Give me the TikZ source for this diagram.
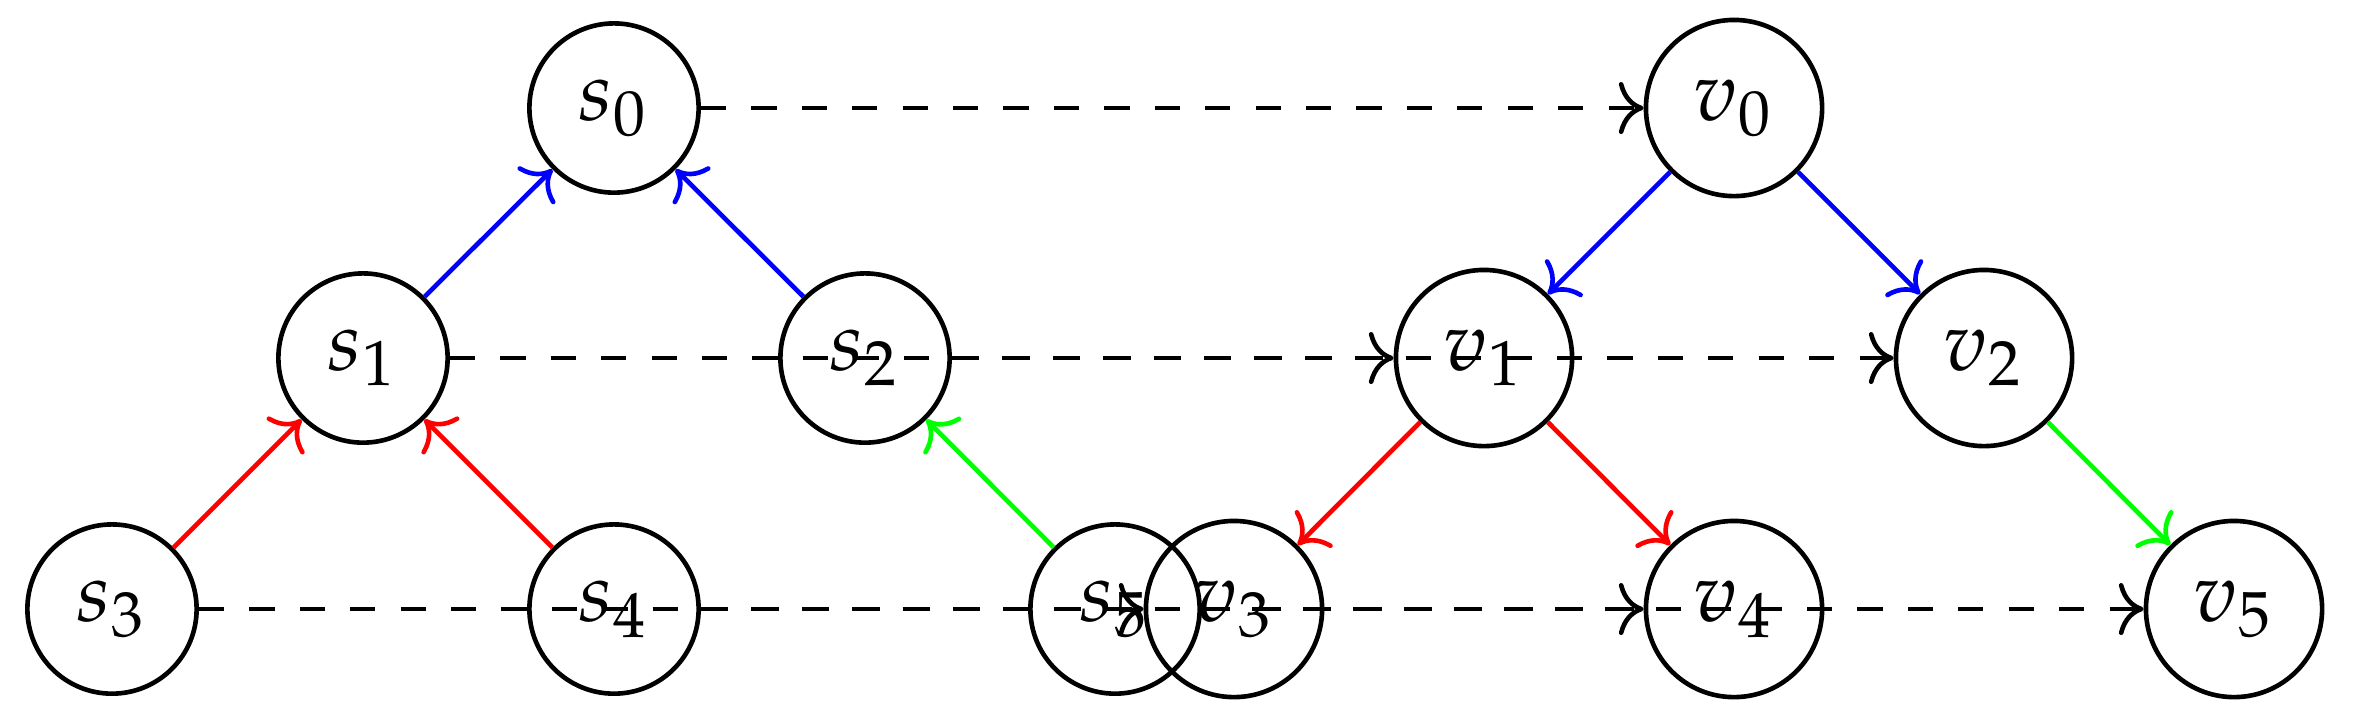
\documentclass[tikz,border=0pt]{standalone}
\usepackage{mathpazo}
\usetikzlibrary{arrows.meta}
\begin{document}
\begin{tikzpicture}[x=0.119pt,y=-0.119pt,
  >={Computer Modern Rightarrow[scale=1.05]},
  vert/.style={circle,draw,line width=0.55pt},
  tree/.style={->,line width=0.55pt},
  corr/.style={->,dashed,line width=0.55pt}]
\useasboundingbox (0,0) rectangle (2370,710);
% s tree
\node[vert] (s0) at (614,108) {$s_0$};
\node[vert] (s1) at (363,358) {$s_1$};
\node[vert] (s2) at (865,358) {$s_2$};
\node[vert] (s3) at (112,609) {$s_3$};
\node[vert] (s4) at (614,609) {$s_4$};
\node[vert] (s5) at (1115,609) {$s_5$};
% v tree
\node[vert] (v0) at (1734,108) {$v_0$};
\node[vert] (v1) at (1484,358) {$v_1$};
\node[vert] (v2) at (1984,358) {$v_2$};
\node[vert] (v3) at (1234,609) {$v_3$};
\node[vert] (v4) at (1734,609) {$v_4$};
\node[vert] (v5) at (2234,609) {$v_5$};
% s edges
\draw[tree,blue] (s1) -- (s0);
\draw[tree,blue] (s2) -- (s0);
\draw[tree,red] (s3) -- (s1);
\draw[tree,red] (s4) -- (s1);
\draw[tree,green] (s5) -- (s2);
% v edges
\draw[tree,blue] (v0) -- (v1);
\draw[tree,blue] (v0) -- (v2);
\draw[tree,red] (v1) -- (v3);
\draw[tree,red] (v1) -- (v4);
\draw[tree,green] (v2) -- (v5);
% correspondences
\draw[corr] (s0) -- (v0);
\draw[corr] (s1) -- (v1);
\draw[corr] (s2) -- (v2);
\draw[corr] (s3) -- (v3);
\draw[corr] (s4) -- (v4);
\draw[corr] (s5) -- (v5);
\end{tikzpicture}
\end{document}
